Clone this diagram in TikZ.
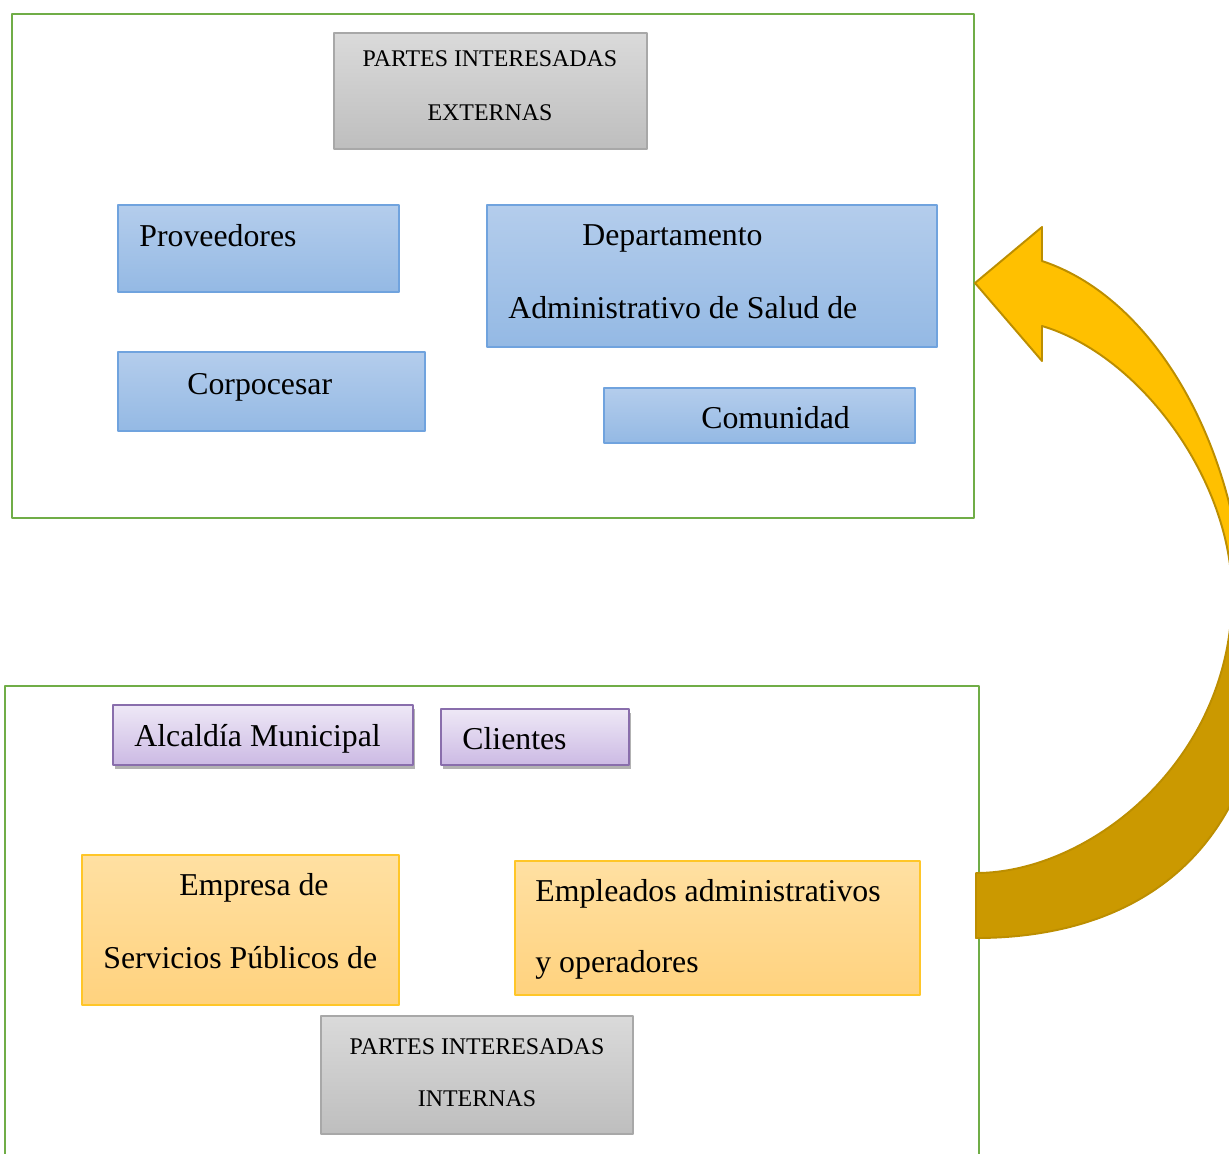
\documentclass[tikz,border=0pt]{standalone}
\usepackage{fontspec}
\setmainfont{Liberation Serif}
\usetikzlibrary{fit,shadows}
\definecolor{khung}{RGB}{112,173,71}
\definecolor{xanhvien}{RGB}{112,163,222}
\definecolor{xanhtren}{RGB}{180,205,236}
\definecolor{xanhduoi}{RGB}{148,185,228}
\definecolor{xamvien}{RGB}{168,168,168}
\definecolor{xamtren}{RGB}{218,218,218}
\definecolor{xamduoi}{RGB}{190,190,190}
\definecolor{timvien}{RGB}{137,110,172}
\definecolor{timtren}{RGB}{238,232,246}
\definecolor{timduoi}{RGB}{204,186,228}
\definecolor{camvien}{RGB}{255,198,40}
\definecolor{camtren}{RGB}{255,224,162}
\definecolor{camduoi}{RGB}{255,210,126}
\definecolor{muivang}{RGB}{255,192,0}
\definecolor{muitoi}{RGB}{203,153,0}
\definecolor{vienmui}{RGB}{188,142,0}
\tikzset{
	hop/.style={draw,inner sep=0pt,line width=0.8pt},
	hopxanh/.style={hop,draw=xanhvien,top color=xanhtren,bottom color=xanhduoi},
	hopxam/.style={hop,draw=xamvien,top color=xamtren,bottom color=xamduoi},
	hoptim/.style={hop,draw=timvien,top color=timtren,bottom color=timduoi,
		drop shadow={shadow xshift=1pt,shadow yshift=-2pt,opacity=0.3,fill=black}},
	hopcam/.style={hop,draw=camvien,top color=camtren,bottom color=camduoi},
	chulon/.style={font=\fontsize{18.1}{20}\selectfont,inner sep=0pt,anchor=base west},
	chunho/.style={font=\fontsize{13.6}{15}\selectfont,inner sep=0pt,anchor=base}
}
\begin{document}
\begin{tikzpicture}[x=0.02cm,y=-0.02cm,line join=round]
	\useasboundingbox (0,0) rectangle (1229,1153);
	% ve khung tren va khung duoi
	\draw[khung,line width=1.6pt] (12,14) rectangle (974,518);
	\draw[khung,line width=1.6pt] (5,1165)--(5,686)--(979,686)--(979,1165);
	% cac hop ben ngoai
	\node[hopxam,fit={(334,33) (647,149)}] (ngoai) {};
	\node[hopxanh,fit={(118,205) (399,292)}] (prov) {};
	\node[hopxanh,fit={(487,205) (937,347)}] (depto) {};
	\node[hopxanh,fit={(118,352) (425,431)}] (corpo) {};
	\node[hopxanh,fit={(604,388) (915,443)}] (comu) {};
	\node[chunho] (ngoai1) at (490,66) {PARTES INTERESADAS};
	\node[chunho] (ngoai2) at (490,120) {EXTERNAS};
	\node[chulon] (provt) at (139,246) {Proveedores};
	\node[chulon] (depto1) at (582,245) {Departamento};
	\node[chulon] (depto2) at (508,318) {Administrativo de Salud de};
	\node[chulon] (corpot) at (187,394) {Corpocesar};
	\node[chulon] (comut) at (701,428) {Comunidad};
	% cac hop ben trong
	\node[hoptim,fit={(113,705) (413,765)}] (alca) {};
	\node[hoptim,fit={(441,709) (629,765)}] (clie) {};
	\node[hopcam,fit={(82,855) (399,1005)}] (empr) {};
	\node[hopcam,fit={(515,861) (920,995)}] (empl) {};
	\node[hopxam,fit={(321,1016) (633,1134)}] (trong) {};
	\node[chulon] (alcat) at (134,746) {Alcaldía Municipal};
	\node[chulon] (cliet) at (462,749) {Clientes};
	\node[chulon] (empr1) at (179,895) {Empresa de};
	\node[chulon] (empr2) at (103,968) {Servicios Públicos de};
	\node[chulon] (empl1) at (535,901) {Empleados administrativos};
	\node[chulon] (empl2) at (535,972) {y operadores};
	\node[chunho] (trong1) at (477,1054) {PARTES INTERESADAS};
	\node[chunho] (trong2) at (477,1106) {INTERNAS};
	% mui ten cong
	\path
	(975,283) coordinate (T) % dinh mui
	(1042,227) coordinate (B1)
	(1042,261) coordinate (O)
	(1042,326) coordinate (I)
	(1042,361) coordinate (B2)
	(1232,595) coordinate (J)
	(976,873) coordinate (E1) % duoi
	(976,938) coordinate (E2)
	;
	% phan sau (mau toi)
	\filldraw[fill=muitoi,draw=vienmui,line width=1.1pt] (E1) .. controls (1090,873) and (1232,760) .. (J) -- (1268,630) .. controls (1268,860) and (1130,938) .. (E2) -- cycle;
	% phan truoc (mau vang)
	\filldraw[fill=muivang,draw=vienmui,line width=1.1pt] (T) -- (B1) -- (O) .. controls (1160,300) and (1245,460) .. (1245,630) -- (J) .. controls (1232,480) and (1140,355) .. (I) -- (B2) -- cycle;
\end{tikzpicture}
\end{document}
